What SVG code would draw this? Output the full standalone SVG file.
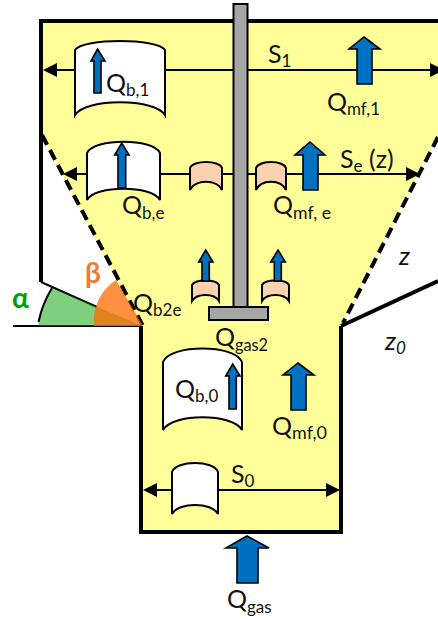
<svg xmlns="http://www.w3.org/2000/svg" width="438" height="619" viewBox="0 0 438 619">
<style>
.wall{fill:none;stroke:#000;stroke-width:4}
.thin{fill:none;stroke:#000;stroke-width:2}
.dash{fill:none;stroke:#000;stroke-width:4;stroke-dasharray:11 6}
.dim{fill:none;stroke:#000;stroke-width:2.200}
.head{fill:#000}
.bub{fill:#fff;stroke:#000;stroke-width:2}
.pch{fill:#fbd2b0;stroke:#000;stroke-width:2}
.arr{fill:#0070c0;stroke:#000;stroke-width:1.600;stroke-linejoin:miter}
.pole{fill:#a6a6a6;stroke:#000;stroke-width:2}
text{font-family:"Lato","Open Sans","Liberation Sans",sans-serif;font-size:25px;fill:#111}
.sub{font-size:17px}
.it{font-style:italic;font-size:26px}
</style>
<defs>
<path id="h" d="M0 0L14 -7V7Z"/>
</defs>
<g id="vessel">
<path d="M41 21H438V136L341 326V532H141V327L41 135Z" fill="#ffff99"/>
<path class="wall" d="M438 21H41V282"/>
<path class="wall" d="M141 326V532H341V326"/>
<path class="wall" d="M341 326L438 281"/>
<path class="thin" d="M41 282L97 307"/>
<path class="thin" d="M13 326H141"/>
<path class="dash" d="M42 135L143 326"/>
<path class="dash" d="M438 137L343 323"/>
</g>
<g id="connectors">
<path class="dim" d="M50 70H438"/>
<use href="#h" class="head" x="43" y="70"/>
<use href="#h" class="head" transform="translate(444 70) rotate(180)"/>
<path class="dim" d="M70 174H412"/>
<use href="#h" class="head" x="63" y="174"/>
<use href="#h" class="head" transform="translate(420 174) rotate(180)"/>
<path class="dim" d="M150 490H332"/>
<use href="#h" class="head" x="143" y="490"/>
<use href="#h" class="head" transform="translate(340 490) rotate(180)"/>
</g>
<g id="angles">
<path d="M143 326L38 326A105 105 0 0 1 52 288Z" fill="#00a000" fill-opacity=".5"/>
<path d="M143 326L94 326A49 49 0 0 1 116 280Z" fill="#ff6a00" fill-opacity=".75"/>
<path class="thin" d="M38.500 322A105 105 0 0 1 52 288"/>
<text x="12" y="308" style="font-weight:700;font-size:28px;fill:#00a000">α</text>
<text x="85" y="283" style="font-weight:700;font-size:28px;fill:#ed7d31">β</text>
</g>
<g id="bubble-b1"><path class="bub" d="M75 50C83 38 157 38 165 50V115C155 98 85 98 75 115Z"/></g>
<g id="bubble-be"><path class="bub" d="M87 153C94 138 153 138 160 153V200C152 185 95 185 87 200Z"/></g>
<g id="bubble-b0"><path class="bub" d="M163 362C170 344 235 344 242 362V430C233 413 172 413 163 430Z"/></g>
<g id="bubble-s0"><path class="bub" d="M172 472C176 460 214 460 218 472V514C212 502 178 502 172 514Z"/></g>
<g id="bubble-p1"><path class="pch" d="M190 168C193 160 219 160 222 168V190C217 179 195 179 190 190Z"/></g>
<g id="bubble-p2"><path class="pch" d="M256 168C259 160 283 160 286 168V190C281 179 261 179 256 190Z"/></g>
<g id="bubble-p3"><path class="pch" d="M192 285C195 279 216 279 219 285V301C214 293 197 293 192 301Z"/></g>
<g id="bubble-p4"><path class="pch" d="M262 285C265 279 286 279 289 285V301C284 293 267 293 262 301Z"/></g>
<g id="arrows">
<path class="arr" d="M364 37L380 49H372V84H357V49H349Z"/>
<path class="arr" d="M310 142L325 155H318V190H303V155H295Z"/>
<path class="arr" d="M298 363L314 375H306V410H291V375H283Z"/>
<path class="arr" d="M247 536L269 548H258V583H237V548H226Z"/>
<path class="arr" d="M97.500 49L105 61H101V93H94V61H91Z"/>
<path class="arr" d="M121.700 143L129 155H125.700V188H118V155H114.700Z"/>
<path class="arr" d="M232.700 364L240 376H236.300V409H229V376H225.700Z"/>
<path class="arr" d="M205.700 250L213 262H209.300V281H202V262H198.700Z"/>
<path class="arr" d="M278 250L285.300 262H281.300V281H274.300V262H270.700Z"/>
</g>
<g id="lance">
<rect class="pole" x="233.500" y="4" width="14" height="303"/>
<rect class="pole" x="209" y="307" width="59" height="13"/>
</g>
<g id="labels">
<text x="106" y="92">Q<tspan class="sub" dy="4">b,1</tspan></text>
<text x="122" y="214">Q<tspan class="sub" dy="5">b,e</tspan></text>
<text x="268" y="63">S<tspan class="sub" dy="4">1</tspan></text>
<text x="327" y="111">Q<tspan class="sub" dy="4" textLength="33" lengthAdjust="spacingAndGlyphs">mf,1</tspan></text>
<text x="340" y="168">S<tspan class="sub" dy="4">e</tspan><tspan dy="-4"> (z)</tspan></text>
<text x="273" y="214">Q<tspan class="sub" dy="5" textLength="38" lengthAdjust="spacingAndGlyphs">mf, e</tspan></text>
<text x="133" y="312">Q<tspan class="sub" dy="4">b2e</tspan></text>
<text x="215" y="346">Q<tspan class="sub" dy="5" textLength="33" lengthAdjust="spacingAndGlyphs">gas2</tspan></text>
<text x="175" y="398">Q<tspan class="sub" dy="4">b,0</tspan></text>
<text x="272" y="435">Q<tspan class="sub" dy="4" textLength="35" lengthAdjust="spacingAndGlyphs">mf,0</tspan></text>
<text x="231" y="483">S<tspan class="sub" dy="4">0</tspan></text>
<text x="227" y="608">Q<tspan class="sub" dy="5">gas</tspan></text>
<text class="it" x="399" y="265">z</text>
<text class="it" x="385" y="350">z<tspan class="sub" dy="4">0</tspan></text>
</g>
</svg>
